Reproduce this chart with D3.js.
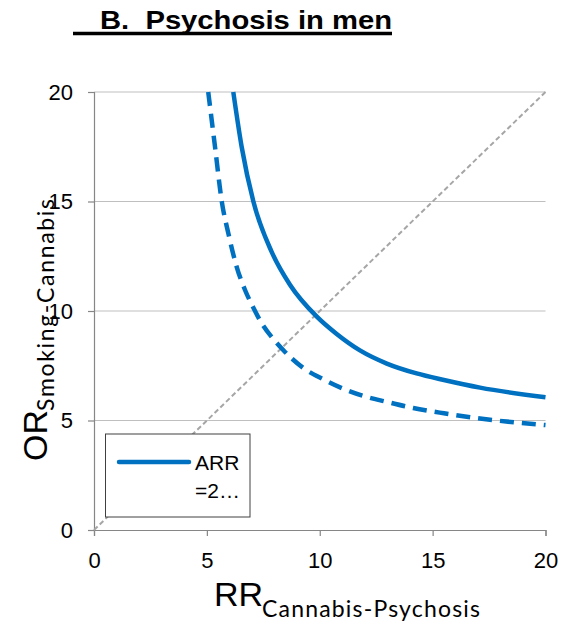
<!DOCTYPE html>
<html>
<head>
<meta charset="utf-8">
<script src="https://cdn.jsdelivr.net/npm/d3@7"></script>
<style>
  body { margin: 0; background: #fff; }
  text { font-family: "Liberation Sans", Arial, sans-serif; }
</style>
</head>
<body>
<div id="chart"></div>
<script>
// Data
const solidRR = [6.17, 6.54, 7.06, 7.87, 8.68, 9.87, 10.75, 11.78, 12.97, 14.29, 15.5, 17.1, 20];
const solidOR = [20, 17.5, 15, 12.7, 11.2, 9.74, 8.95, 8.2, 7.6, 7.15, 6.85, 6.5, 6.06];
const dashedRR = [5.06, 5.36, 5.66, 5.95, 6.32, 6.69, 7.06, 7.43, 8.02, 8.38, 9.27, 10.16, 11.04, 11.93, 12.97, 14.14, 15.5, 17.1, 20];
const dashedOR = [20, 17.5, 15, 13.55, 12.02, 10.96, 10.15, 9.44, 8.63, 8.22, 7.4, 6.88, 6.45, 6.12, 5.85, 5.57, 5.33, 5.09, 4.79];
const diagonal = [0, 20];
const xTicks = [0, 5, 10, 15, 20];
const yTicks = [0, 5, 10, 15, 20];
const legendLabel = ['ARR', '=2\u2026'];

const width = 563, height = 630;
const margin = { top: 92, right: 17, bottom: 100, left: 94 };
const blue = '#0070C0';

const svg = d3.select('#chart').append('svg')
  .attr('width', width)
  .attr('height', height);

const x = d3.scaleLinear().domain([0, 20]).range([margin.left, 545.5]);
const y = d3.scaleLinear().domain([0, 20]).range([530, margin.top]);

// Title with underline
svg.append('text')
  .attr('x', 100)
  .attr('y', 28.5)
  .attr('font-size', 26)
  .attr('font-weight', 'bold')
  .attr('textLength', 292)
  .attr('lengthAdjust', 'spacingAndGlyphs')
  .style('white-space', 'pre')
  .text('B.  Psychosis in men');
svg.append('line')
  .attr('x1', 73).attr('x2', 392)
  .attr('y1', 33.5).attr('y2', 33.5)
  .attr('stroke', '#000')
  .attr('stroke-width', 3.5);

// Gridlines
svg.append('g')
  .selectAll('line')
  .data(yTicks.filter(d => d > 0))
  .enter().append('line')
  .attr('x1', x(0)).attr('x2', x(20))
  .attr('y1', d => y(d)).attr('y2', d => y(d))
  .attr('stroke', '#bfbfbf')
  .attr('stroke-width', 1);

// Axes
const xAxis = d3.axisBottom(x).tickValues(xTicks).tickSize(6).tickPadding(16).tickFormat(d3.format('d'));
const yAxis = d3.axisLeft(y).tickValues(yTicks).tickSize(6).tickPadding(15).tickFormat(d3.format('d'));

const gx = svg.append('g').attr('transform', `translate(0,${y(0)})`).call(xAxis);
const gy = svg.append('g').attr('transform', `translate(${x(0)},0)`).call(yAxis);

[gx, gy].forEach(g => {
  g.select('.domain').attr('stroke', '#868686').attr('stroke-width', 1.2);
  g.selectAll('.tick line').attr('stroke', '#868686').attr('stroke-width', 1.2);
  g.selectAll('.tick text')
    .attr('font-size', 22)
    .attr('fill', '#000')
    .style('font-family', '"Liberation Sans", Arial, sans-serif');
});

// Diagonal reference line
svg.append('line')
  .attr('x1', x(diagonal[0])).attr('y1', y(diagonal[0]))
  .attr('x2', x(diagonal[1])).attr('y2', y(diagonal[1]))
  .attr('stroke', '#a6a6a6')
  .attr('stroke-width', 2)
  .attr('stroke-dasharray', '5,3');

// Curves
const line = d3.line()
  .x(d => x(d[0]))
  .y(d => y(d[1]))
  .curve(d3.curveMonotoneX);

svg.append('path')
  .datum(dashedRR.map((d, i) => [d, dashedOR[i]]))
  .attr('fill', 'none')
  .attr('stroke', blue)
  .attr('stroke-width', 4.5)
  .attr('stroke-dasharray', '14,8')
  .attr('d', line);

svg.append('path')
  .datum(solidRR.map((d, i) => [d, solidOR[i]]))
  .attr('fill', 'none')
  .attr('stroke', blue)
  .attr('stroke-width', 4.5)
  .attr('d', line);

// Legend
const legend = svg.append('g');
legend.append('rect')
  .attr('x', 105.5).attr('y', 434)
  .attr('width', 144.5).attr('height', 83)
  .attr('fill', '#fff')
  .attr('stroke', '#404040')
  .attr('stroke-width', 1);
legend.append('line')
  .attr('x1', 119).attr('x2', 189)
  .attr('y1', 462).attr('y2', 462)
  .attr('stroke', blue)
  .attr('stroke-width', 4.5)
  .attr('stroke-linecap', 'round');
legend.selectAll('text.lbl')
  .data(legendLabel)
  .enter().append('text')
  .attr('class', 'lbl')
  .attr('x', 195)
  .attr('y', (d, i) => 470 + i * 28)
  .attr('font-size', 21)
  .text(d => d);

// Axis titles
svg.append('text')
  .attr('x', 214)
  .attr('y', 606)
  .attr('font-size', 34)
  .text('RR');
svg.append('text')
  .attr('x', 262)
  .attr('y', 617)
  .attr('font-size', 23)
  .attr('textLength', 218)
  .attr('lengthAdjust', 'spacing')
  .style('font-family', 'Lato, "Open Sans", sans-serif')
  .text('Cannabis-Psychosis');

svg.append('text')
  .attr('transform', 'translate(47,461) rotate(-90)')
  .attr('font-size', 34)
  .text('OR');
svg.append('text')
  .attr('transform', 'translate(54,411) rotate(-90)')
  .attr('font-size', 23)
  .attr('textLength', 212)
  .attr('lengthAdjust', 'spacing')
  .style('font-family', 'Lato, "Open Sans", sans-serif')
  .text('Smoking-Cannabis');
</script>
</body>
</html>
